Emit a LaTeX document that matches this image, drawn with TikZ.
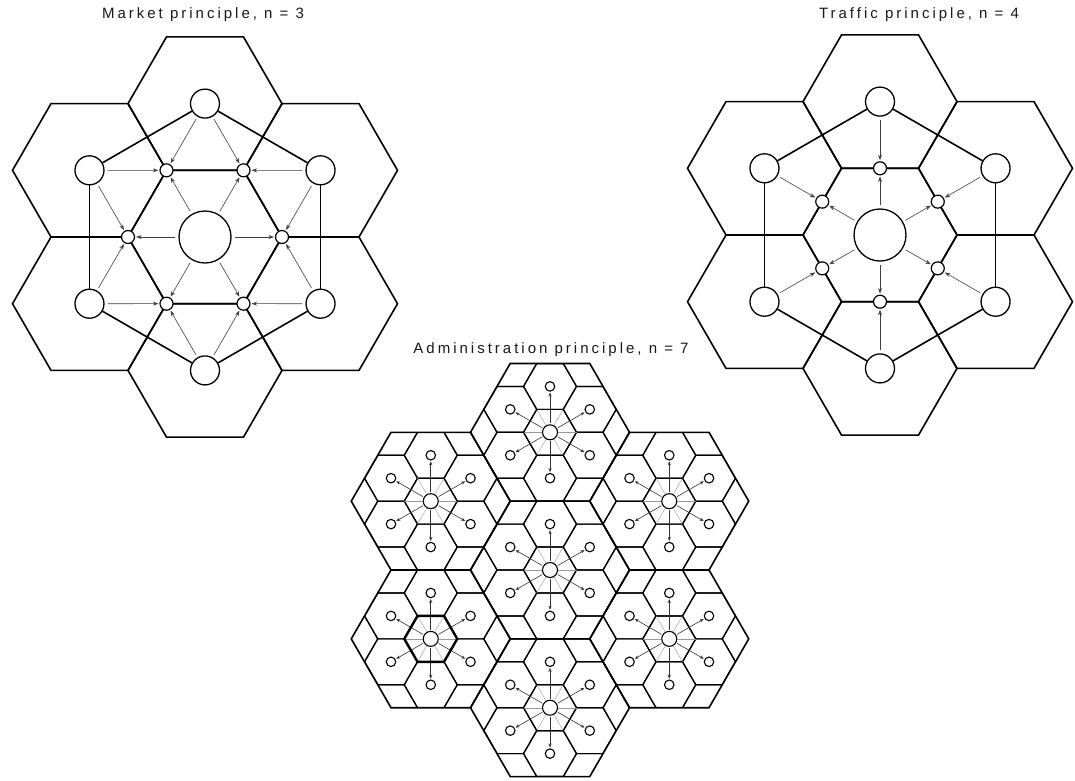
\documentclass[tikz,border=0pt]{standalone}
\usepackage{fontspec}
\newfontfamily\lbl[LetterSpace=20]{Liberation Sans}
\usetikzlibrary{arrows.meta,calc}
\tikzset{pics/hexa/.style={code={\draw[pic actions] (0:#1) -- (60:#1) -- (120:#1) -- (180:#1) -- (240:#1) -- (300:#1) -- cycle;}}}
\begin{document}
\begin{tikzpicture}[x=1pt,y=-1pt,
  hexline/.style={line width=1.6pt, line join=miter},
  conn/.style={line width=1.6pt},
  flow/.style={line width=0.6pt, draw=black!75, -{Stealth[length=5.5pt,width=4pt]}, shorten <=3pt, shorten >=1pt},
  bigc/.style={circle, draw, line width=1.3pt, fill=white, minimum size=52pt, inner sep=0pt},
  outc/.style={circle, draw, line width=1.3pt, fill=white, minimum size=29pt, inner sep=0pt},
  smc/.style={circle, draw, line width=1.2pt, fill=white, minimum size=13pt, inner sep=0pt},
  shex/.style={line width=1.2pt, line join=miter},
  bhex/.style={line width=1.6pt, line join=miter},
  acen/.style={circle, draw, line width=1.1pt, fill=white, minimum size=15pt, inner sep=0pt},
  anb/.style={circle, draw, line width=1.1pt, fill=white, minimum size=9.5pt, inner sep=0pt},
  aflow/.style={line width=0.6pt, draw=black!80, -{Stealth[length=4pt,width=3.2pt]}, shorten <=1pt, shorten >=0.8pt},
  spoke/.style={line width=0.4pt, draw=black!40},
  title/.style={font=\lbl\fontsize{15}{17}\selectfont, text=black!90, inner sep=0pt}]
\fill[white] (0,0) rectangle (1075,780);
\useasboundingbox (0,0) rectangle (1075,780);

% ---------------- titles
\node[title] (tm) at (203,15) {Market principle, n = 3};
\node[title] (tt) at (919,15) {Traffic principle, n = 4};
\node[title] (ta) at (551,350) {Administration principle, n = 7};

% ---------------- market principle
\foreach \p in {(205,237),(205,103.6),(205,370.4),(89.5,170.3),(320.5,170.3),(89.5,303.7),(320.5,303.7)}
  \pic[hexline] at \p {hexa=77};
\node[bigc] (mC) at (205,237) {};
\foreach \k in {1,...,6} {
  \node[outc] (mO\k) at ($(mC)+({60*\k-30}:133.4)$) {};
  \node[smc] (mV\k) at ($(mC)+({60*\k}:77)$) {};
}
\foreach \k/\n in {1/2,2/3,3/4,4/5,5/6,6/1}
  \draw[conn] (mO\k) -- (mO\n);
\foreach \k/\p in {1/6,2/1,3/2,4/3,5/4,6/5} {
  \draw[flow] (mC) -- (mV\k);
  \draw[flow] (mO\k) -- (mV\k);
  \draw[flow] (mO\k) -- (mV\p);
}

% ---------------- traffic principle
\foreach \p in {(880,235),(880,101.6),(880,368.4),(764.5,168.3),(995.5,168.3),(764.5,301.7),(995.5,301.7)}
  \pic[hexline] at \p {hexa=77};
\node[bigc] (tC) at (880,235) {};
\foreach \k in {1,...,6} {
  \node[outc] (tO\k) at ($(tC)+({60*\k-30}:133.4)$) {};
  \node[smc] (tM\k) at ($(tC)+({60*\k-30}:66.7)$) {};
}
\foreach \k/\n in {1/2,2/3,3/4,4/5,5/6,6/1}
  \draw[conn] (tO\k) -- (tO\n);
\foreach \k in {1,...,6} {
  \draw[flow] (tC) -- (tM\k);
  \draw[flow] (tO\k) -- (tM\k);
}

% ---------------- administration principle
\foreach \cx/\cy/\c in {550/570/0, 550/432.3/1, 550/707.7/2, 430.75/501.15/3, 669.25/501.15/4, 430.75/638.85/5, 669.25/638.85/6} {
  \begin{scope}[shift={(\cx,\cy)}]
    \begin{scope}
      \clip (0:79.5) -- (60:79.5) -- (120:79.5) -- (180:79.5) -- (240:79.5) -- (300:79.5) -- cycle;
      \foreach \q in {-2,...,2}
        \foreach \r in {-3,...,3}
          \pic[shex] at ({39.75*\q},{22.95*(\q+2*\r)}) {hexa=26.5};
    \end{scope}
    \pic[bhex] at (0,0) {hexa=79.5};
    \node[acen] (a\c-C) at (0,0) {};
    \foreach \k in {1,...,6} {
      \node[anb] (a\c-N\k) at ({60*\k-30}:45.9) {};
      \coordinate (a\c-V\k) at ({60*\k}:26.5);
      \draw[spoke] (a\c-C) -- (a\c-V\k);
      \draw[aflow] (a\c-C) -- (a\c-N\k);
    }
  \end{scope}
}
\pic[line width=2.4pt, line join=miter] at (430.75,638.85) {hexa=26.5};
\end{tikzpicture}
\end{document}
